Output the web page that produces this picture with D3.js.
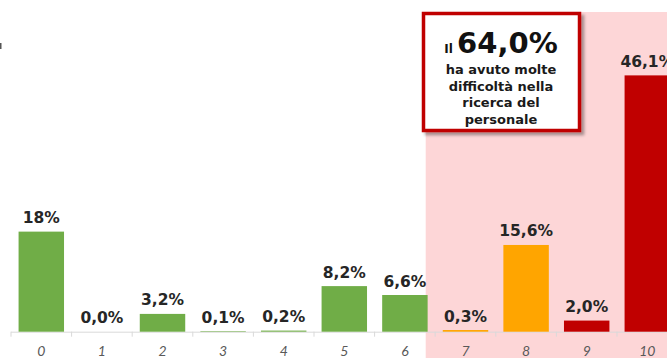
<!DOCTYPE html>
<html>
<head>
<meta charset="utf-8">
<script src="https://cdn.jsdelivr.net/npm/d3@7"></script>
<style>
  html, body { margin: 0; padding: 0; background: #ffffff; }
  svg { display: block; }
</style>
</head>
<body>
<div id="chart"></div>
<script>
// Scores 0–10 and share of companies (%) for each score
const categories = ["0", "1", "2", "3", "4", "5", "6", "7", "8", "9", "10"];
const values = [18, 0.0, 3.2, 0.1, 0.2, 8.2, 6.6, 0.3, 15.6, 2.0, 46.1];
const valueLabels = ["18%", "0,0%", "3,2%", "0,1%", "0,2%", "8,2%", "6,6%", "0,3%", "15,6%", "2,0%", "46,1%"];
const groups = ["low", "low", "low", "low", "low", "low", "low", "mid", "mid", "high", "high"];
const highlightTotal = "64,0%";
const highlightLines = ["ha avuto molte", "difficoltà nella", "ricerca del", "personale"];

const W = 667, H = 358;
const baseY = 331.7;
const colors = { low: "#70ad47", mid: "#ffa500", high: "#c00000" };

const svg = d3.select("#chart").append("svg")
  .attr("width", W).attr("height", H);

const defs = svg.append("defs");
const shadow = defs.append("filter").attr("id", "shadow")
  .attr("x", "-10%").attr("y", "-10%").attr("width", "130%").attr("height", "130%");
shadow.append("feDropShadow")
  .attr("dx", 3).attr("dy", 3).attr("stdDeviation", 1.6)
  .attr("flood-color", "#000").attr("flood-opacity", 0.35);

const x = d3.scaleBand()
  .domain(categories)
  .range([11, 11 + 11 * 60.6])
  .paddingInner(0.25)
  .paddingOuter(0.125);

const y = d3.scaleLinear()
  .domain([0, 46.1])
  .range([baseY, baseY - 46.1 * 5.56]);

// highlighted zone for the top scores
const zoneX = x("7") - x.step() * 0.125 - 9.5;
svg.append("rect")
  .attr("x", zoneX).attr("y", 12)
  .attr("width", W - zoneX).attr("height", H - 12)
  .attr("fill", "#fdd6d7");

// small fragment at the left edge
svg.append("rect")
  .attr("x", 0).attr("y", 43).attr("width", 1.5).attr("height", 6)
  .attr("fill", "#555");

// x axis with ticks between the categories
const stepW = x.step();
const x0 = x.range()[0];
const axisG = svg.append("g");
axisG.append("line")
  .attr("x1", x0).attr("x2", W)
  .attr("y1", baseY + 0.5).attr("y2", baseY + 0.5)
  .attr("stroke", "#d9d9d9").attr("stroke-width", 1);
axisG.selectAll("line.tick")
  .data(d3.range(categories.length + 1))
  .join("line").attr("class", "tick")
  .attr("x1", i => x0 + i * stepW).attr("x2", i => x0 + i * stepW)
  .attr("y1", baseY).attr("y2", baseY + 5)
  .attr("stroke", "#d9d9d9").attr("stroke-width", 1);
axisG.selectAll("text")
  .data(categories)
  .join("text")
  .attr("x", d => x(d) + x.bandwidth() / 2)
  .attr("y", 356)
  .attr("text-anchor", "middle")
  .attr("font-family", "Lato, 'DejaVu Sans', sans-serif")
  .attr("font-style", "italic")
  .attr("font-size", 14)
  .attr("fill", "#595959")
  .text(d => d);

// bars
svg.append("g").selectAll("rect")
  .data(categories)
  .join("rect")
  .attr("x", d => x(d))
  .attr("width", x.bandwidth())
  .attr("y", (d, i) => y(values[i]))
  .attr("height", (d, i) => baseY - y(values[i]))
  .attr("fill", (d, i) => colors[groups[i]]);

// value labels
svg.append("g").selectAll("text")
  .data(categories)
  .join("text")
  .attr("x", d => x(d) + x.bandwidth() / 2)
  .attr("y", (d, i) => y(values[i]) - 8.5)
  .attr("text-anchor", "middle")
  .attr("font-family", "'DejaVu Sans', sans-serif")
  .attr("font-weight", "bold")
  .attr("font-size", 15.5)
  .attr("fill", "#262626")
  .text((d, i) => valueLabels[i]);

// callout box
const box = svg.append("g");
box.append("rect")
  .attr("x", 423.5).attr("y", 13.5)
  .attr("width", 156).attr("height", 117)
  .attr("fill", "#ffffff")
  .attr("stroke", "#c00000").attr("stroke-width", 3.5)
  .attr("filter", "url(#shadow)");

const head = box.append("text")
  .attr("x", 501).attr("y", 53)
  .attr("text-anchor", "middle")
  .attr("font-family", "'DejaVu Sans', sans-serif")
  .attr("font-weight", "bold")
  .attr("fill", "#111");
head.append("tspan").attr("font-size", 12).text("Il ");
head.append("tspan").attr("font-size", 29).text(highlightTotal);

box.append("g").selectAll("text")
  .data(highlightLines)
  .join("text")
  .attr("x", 501)
  .attr("y", (d, i) => 74 + i * 16.5)
  .attr("text-anchor", "middle")
  .attr("font-family", "'DejaVu Sans', sans-serif")
  .attr("font-weight", "bold")
  .attr("font-size", 13)
  .attr("fill", "#1a1a1a")
  .text(d => d);
</script>
</body>
</html>
